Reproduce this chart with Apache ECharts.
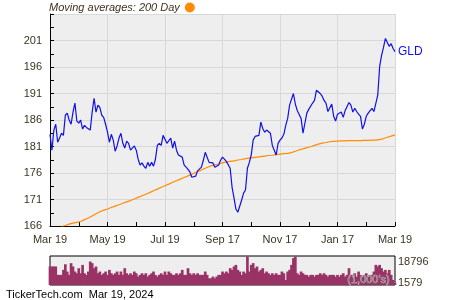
<!DOCTYPE html>
<html><head><meta charset="utf-8">
<script src="https://cdn.jsdelivr.net/npm/echarts@6/dist/echarts.min.js"></script>
<style>html,body{margin:0;padding:0;background:#fff}#c{width:450px;height:300px}</style>
</head><body><div id="c"></div>
<script>
const tickLabels = ['Mar 19','May 19','Jul 19','Sep 17','Nov 17','Jan 17','Mar 19'];
const gld = [
183.3,180.3,184.1,185.2,181.8,182.6,183.5,183.1,186.9,187.3,
186.0,185.2,187.5,189.2,185.8,185.4,186.0,184.3,185.0,184.6,
184.4,184.1,187.5,190.1,187.5,188.8,188.4,186.9,186.5,185.2,
183.7,181.8,183.3,182.2,180.1,181.1,182.6,183.5,181.6,180.7,
182.0,181.6,180.3,180.1,181.1,180.3,178.6,177.5,177.9,177.3,
176.9,178.0,177.3,178.0,177.3,178.6,181.2,181.6,181.2,183.1,
182.8,181.6,181.6,182.6,180.7,182.0,180.3,179.4,179.7,179.0,
177.5,177.1,176.7,176.2,175.2,175.0,175.4,176.4,176.5,177.1,
178.4,179.9,179.6,178.0,177.7,177.9,177.1,176.9,177.5,178.4,
179.0,178.6,178.2,178.0,176.9,173.3,171.3,169.2,168.6,168.6,
170.9,172.2,172.8,176.9,178.0,179.4,182.2,182.9,182.8,183.1,
185.6,184.4,183.7,184.1,184.4,183.5,181.2,181.1,179.4,181.6,
182.2,182.6,183.3,185.0,186.3,188.8,189.0,191.0,189.0,187.8,
187.8,186.3,183.5,183.7,187.3,188.0,187.8,189.2,189.7,191.6,
191.8,191.0,190.5,189.7,189.2,187.6,187.5,189.0,186.7,185.8,
187.1,186.9,187.5,186.5,187.8,188.0,189.3,188.8,187.5,188.2,
187.6,187.1,186.7,184.3,185.2,186.7,187.3,187.5,188.2,187.6,
187.8,190.7,196.1,198.2,199.7,201.4,200.6,199.9,200.4,199.5,
198.9
];
const ma200 = [
null,null,null,null,null,null,165.9,166.0,166.1,166.2,
166.35,166.45,166.55,166.65,166.7,166.8,166.85,167.0,167.2,167.35,
167.5,167.7,167.9,168.1,168.3,168.5,168.7,168.85,169.0,169.1,
169.2,169.35,169.5,169.6,169.75,169.9,170.0,170.15,170.3,170.4,
170.55,170.7,170.8,170.95,171.1,171.25,171.4,171.55,171.7,171.85,
172.0,172.15,172.3,172.5,172.65,172.8,172.95,173.1,173.3,173.45,
173.6,173.75,173.9,174.1,174.25,174.4,174.55,174.7,174.85,175.0,
175.15,175.3,175.45,175.6,175.75,175.9,176.1,176.25,176.4,176.55,
176.75,176.9,177.05,177.2,177.35,177.45,177.55,177.65,177.7,177.8,
177.9,178.0,178.1,178.15,178.2,178.25,178.3,178.35,178.45,178.5,
178.55,178.6,178.7,178.75,178.8,178.85,178.9,178.95,179.0,179.05,
179.1,179.15,179.2,179.25,179.3,179.35,179.35,179.4,179.45,179.5,
179.55,179.6,179.65,179.65,179.7,179.75,179.85,180.0,180.1,180.2,
180.35,180.45,180.55,180.65,180.8,180.9,180.95,181.1,181.2,181.35,
181.45,181.55,181.65,181.7,181.75,181.8,181.9,181.95,181.95,182.0,
182.0,182.0,182.05,182.05,182.05,182.05,182.1,182.1,182.1,182.1,
182.1,182.1,182.1,182.15,182.15,182.15,182.15,182.15,182.2,182.2,
182.2,182.2,182.3,182.4,182.5,182.6,182.75,182.85,182.95,183.1,
183.2
];
const volume = [
15000,15000,15000,15000,8200,8200,8200,12250,16800,10900,
8200,17700,15000,10900,9500,13600,9500,16300,9500,8200,
10900,19000,17700,13600,15000,9500,10900,8200,9500,10900,
8200,12250,9500,8200,9500,10900,8200,10900,8200,13600,
9500,8200,9500,8200,10900,9500,6800,8200,9500,8200,
9500,6800,8200,9500,10900,8200,6800,8200,9500,8200,
10900,8200,10900,9500,8200,8200,9500,8200,9500,12250,
8200,8200,13600,9500,8200,9500,8200,9500,8200,8200,
8200,10900,8200,5450,5450,6800,5450,6800,8200,8200,
10900,9500,10900,9500,13600,12250,15000,16300,12250,10900,
8200,10900,9500,23100,10900,16300,17700,13600,15000,10900,
12250,13600,9500,10900,9500,8200,9500,8200,9500,8200,
8200,10900,9500,4100,10900,12250,16300,21800,23100,9500,
8200,10900,9500,8200,8200,6800,8200,8200,6800,8200,
8200,9500,8200,9500,8200,6800,8200,8200,8200,6800,
8200,6800,8200,9500,6800,8200,13600,8200,8200,9500,
6800,10900,8200,6800,8200,9500,6800,8200,8200,10900,
16300,15000,16300,13600,10900,12250,9500,12250,8200,4100,
1600
];
const volumeLabels = [1579, 18796];
const categories = gld.map((_, i) => String(i));

const font = 'Arial, "Liberation Sans", sans-serif';
const txt = '#3d3320';
const chart = echarts.init(document.getElementById('c'));
chart.setOption({
  animation: false,
  backgroundColor: '#fff',
  legend: {
    left: 49, top: 2, padding: 0, align: 'right', icon: 'circle',
    itemWidth: 10, itemHeight: 10, selectedMode: false,
    data: ['Moving averages: 200 Day'],
    textStyle: { fontStyle: 'italic', fontSize: 11, color: txt, fontFamily: font }
  },
  grid: [
    { left: 50, right: 55, top: 14, height: 212, show: true, backgroundColor: '#eeeeee', borderWidth: 0 },
    { left: 50, right: 55, top: 256, height: 29, show: true, backgroundColor: '#eeeeee', borderColor: '#000', borderWidth: 1 }
  ],
  xAxis: [
    {
      type: 'category', gridIndex: 0, data: categories, boundaryGap: false,
      axisLine: { lineStyle: { color: '#000', width: 1 } },
      axisTick: { inside: true, interval: 14, length: 4, lineStyle: { color: '#000' } },
      axisLabel: { interval: 29, formatter: (v, i) => tickLabels[i / 30], color: txt, fontSize: 11, margin: 8, fontFamily: font },
      splitLine: { show: true, interval: 29, lineStyle: { color: '#d8d8d8' } }
    },
    {
      type: 'category', gridIndex: 1, data: categories, boundaryGap: false,
      axisLine: { show: false }, axisTick: { show: false }, axisLabel: { show: false }, splitLine: { show: false }
    }
  ],
  yAxis: [
    {
      type: 'value', gridIndex: 0, min: 166, max: 206, interval: 5,
      axisLine: { show: true, lineStyle: { color: '#000' } },
      axisTick: { show: true, inside: true, length: 4, lineStyle: { color: '#000' } },
      minorTick: { show: true, splitNumber: 2, length: 4, lineStyle: { color: '#000' } },
      axisLabel: { showMaxLabel: false, color: txt, fontSize: 11, margin: 8, fontFamily: font },
      splitLine: { lineStyle: { color: '#d8d8d8' } }
    },
    {
      type: 'value', gridIndex: 1, position: 'right', min: 0, max: 23500,
      axisLine: { show: false }, axisTick: { show: false }, splitLine: { show: false },
      axisLabel: { customValues: volumeLabels, formatter: v => String(v), color: txt, fontSize: 11, margin: 3, fontFamily: font }
    }
  ],
  series: [
    {
      name: 'Moving averages: 200 Day', type: 'line', xAxisIndex: 0, yAxisIndex: 0,
      data: ma200, showSymbol: false, symbol: 'none', clip: true,
      itemStyle: { color: '#ff8c00' }, lineStyle: { color: '#ff8c00', width: 1.2 }
    },
    {
      name: 'GLD', type: 'line', xAxisIndex: 0, yAxisIndex: 0,
      data: gld, showSymbol: false, symbol: 'none', clip: true,
      itemStyle: { color: '#1010e8' }, lineStyle: { color: '#1010e8', width: 1.2 },
      endLabel: { show: true, formatter: 'GLD', color: '#1010e8', fontSize: 12, distance: 3, fontFamily: font }
    },
    {
      name: 'Volume', type: 'bar', xAxisIndex: 1, yAxisIndex: 1,
      data: volume, barWidth: 2.7, barGap: '-100%',
      itemStyle: { color: '#993366' }
    }
  ],
  graphic: [
    { type: 'text', right: 60, top: 274, z: 100, zlevel: 1, style: { text: "(1,000's)", fill: '#8a8a8a', stroke: '#d8d8d8', lineWidth: 0.5, font: '11px Arial, "Liberation Sans", sans-serif' } },
    { type: 'text', left: 6, top: 289, style: { text: 'TickerTech.com  Mar 19, 2024', fill: '#000', font: '11px Arial, "Liberation Sans", sans-serif' } }
  ]
});
</script>
</body></html>
